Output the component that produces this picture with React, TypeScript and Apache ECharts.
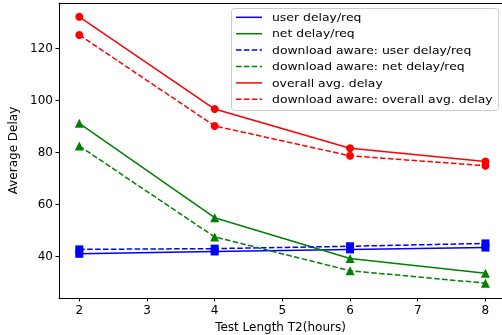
import React, { useEffect, useRef } from "react";
import * as echarts from "echarts";

const xValues = [2, 4, 6, 8];
const xTicks = [2, 3, 4, 5, 6, 7, 8];
const yTicks = [40, 60, 80, 100, 120];

const userDelay = [40.9, 41.8, 42.6, 43.3];
const netDelay = [91.1, 54.8, 39.1, 33.4];
const dlUserDelay = [42.6, 42.9, 43.8, 44.9];
const dlNetDelay = [82.4, 47.4, 34.4, 29.6];
const overallDelay = [132.1, 96.6, 81.5, 76.4];
const dlOverallDelay = [125.1, 90.1, 78.6, 74.8];

const seriesNames = [
  "user delay/req",
  "net delay/req",
  "download aware: user delay/req",
  "download aware: net delay/req",
  "overall avg. delay",
  "download aware: overall avg. delay",
];

const BLUE = "#0000ff";
const GREEN = "#008000";
const RED = "#ff0000";
const FONT = "DejaVu Sans";
const DASH = [5.5, 2.4];

export default function App() {
  const ref = useRef<HTMLDivElement>(null);
  useEffect(() => {
    if (!ref.current) return;
    const chart = echarts.init(ref.current, undefined, { renderer: "svg" });
    const mk = (name: string, data: number[], color: string, dashed: boolean, symbol: string, size: number) => ({
      name,
      type: "line",
      data: xValues.map((x, i) => [x, data[i]]),
      symbol,
      symbolSize: size,
      showSymbol: true,
      lineStyle: { color, width: 1.5, type: dashed ? DASH : "solid" },
      itemStyle: { color, borderWidth: 0 },
      emphasis: { disabled: true },
    });
    const series = [
      mk(seriesNames[0], userDelay, BLUE, false, "rect", 8),
      mk(seriesNames[1], netDelay, GREEN, false, "triangle", 9),
      mk(seriesNames[2], dlUserDelay, BLUE, true, "rect", 8),
      mk(seriesNames[3], dlNetDelay, GREEN, true, "triangle", 9),
      mk(seriesNames[4], overallDelay, RED, false, "circle", 8),
      mk(seriesNames[5], dlOverallDelay, RED, true, "circle", 8),
    ];
    const colors = [BLUE, GREEN, BLUE, GREEN, RED, RED];
    const legendX = 231.5;
    const legendY = 8.5;
    const rowH = 16.4;
    const legendChildren: any[] = [
      {
        type: "rect",
        shape: { x: legendX, y: legendY, width: 267, height: 102, r: 3 },
        style: { fill: "rgba(255,255,255,0.8)", stroke: "#cccccc", lineWidth: 1 },
      },
    ];
    seriesNames.forEach((n, i) => {
      const y = 17.3 + i * rowH;
      legendChildren.push({
        type: "line",
        shape: { x1: 236, y1: y, x2: 262, y2: y },
        style: { stroke: colors[i], lineWidth: 1.5, lineDash: i === 2 || i === 3 || i === 5 ? DASH : null },
      });
      legendChildren.push({
        type: "text",
        x: 272,
        y,
        scaleX: 1.13,
        style: { text: n, fill: "#000", font: `11px "${FONT}"`, verticalAlign: "middle", align: "left" },
      });
    });
    const hiddenAxisParts = {
      axisTick: { show: false },
      axisLabel: { show: false },
      splitLine: { show: false },
    };
    chart.setOption({
      animation: false,
      textStyle: { fontFamily: FONT },
      grid: { left: 59, top: 3, right: 0, bottom: 37, outerBoundsMode: "none", containLabel: false },
      xAxis: [
        {
          type: "value",
          min: 1.7,
          max: 8.245,
          name: "Test Length T2(hours)",
          nameLocation: "middle",
          nameGap: 23,
          nameTextStyle: { fontSize: 12, color: "#000", fontFamily: FONT },
          axisLine: { lineStyle: { color: "#000", width: 1 } },
          axisTick: { show: true, length: 3.5, customValues: xTicks, lineStyle: { color: "#000" } },
          axisLabel: { customValues: xTicks, fontSize: 12, color: "#000", margin: 6, fontFamily: FONT },
          splitLine: { show: false },
        },
        {
          type: "value",
          position: "top",
          min: 1.7,
          max: 8.245,
          axisLine: { show: true, lineStyle: { color: "#000", width: 1 } },
          ...hiddenAxisParts,
        },
      ],
      yAxis: {
        type: "value",
        min: 23.9,
        max: 137.4,
        name: "Average Delay",
        nameLocation: "middle",
        nameGap: 39,
        nameTextStyle: { fontSize: 12, color: "#000", fontFamily: FONT },
        axisLine: { show: true, lineStyle: { color: "#000", width: 1 } },
        axisTick: { show: true, length: 3.5, customValues: yTicks, lineStyle: { color: "#000" } },
        axisLabel: { customValues: yTicks, fontSize: 12, color: "#000", margin: 6, fontFamily: FONT },
        splitLine: { show: false },
      },
      series,
      graphic: [{ type: "group", children: legendChildren }],
    });
    return () => chart.dispose();
  }, []);
  return <div ref={ref} style={{ position: "fixed", left: 0, top: 0, width: 502, height: 335 }} />;
}
